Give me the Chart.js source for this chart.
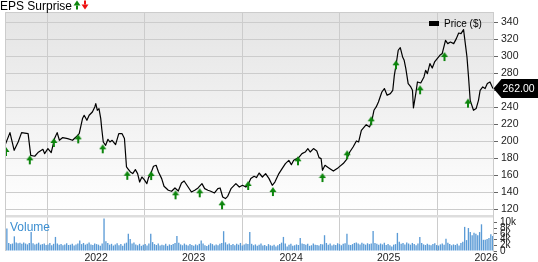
<!DOCTYPE html>
<html>
<head>
<meta charset="utf-8">
<script src="https://cdn.jsdelivr.net/npm/chart.js@4"></script>
<style>
  html, body { margin: 0; padding: 0; background: #fff; }
  #wrap { position: relative; width: 538px; height: 262px; }
</style>
</head>
<body>
<div id="wrap"><canvas id="chart" width="538" height="262"></canvas></div>
<script>
'use strict';

// price line, dates as decimal years
const priceDates = [
  2021.066, 2021.117, 2021.160, 2021.201, 2021.236, 2021.303, 2021.330, 2021.371, 2021.404, 2021.455,
  2021.472, 2021.506, 2021.540, 2021.574, 2021.601, 2021.624, 2021.658, 2021.709, 2021.759, 2021.794,
  2021.827, 2021.861, 2021.878, 2021.906, 2021.929, 2021.962, 2021.987, 2021.997, 2022.013, 2022.030,
  2022.048, 2022.058, 2022.074, 2022.098, 2022.122, 2022.142, 2022.165, 2022.200, 2022.233, 2022.267,
  2022.291, 2022.312, 2022.325, 2022.352, 2022.376, 2022.403, 2022.426, 2022.447, 2022.470, 2022.494,
  2022.521, 2022.538, 2022.561, 2022.589, 2022.616, 2022.640, 2022.673, 2022.697, 2022.741, 2022.775,
  2022.809, 2022.843, 2022.876, 2022.903, 2022.944, 2022.978, 2023.012, 2023.046, 2023.086, 2023.114,
  2023.147, 2023.170, 2023.215, 2023.249, 2023.272, 2023.299, 2023.327, 2023.350, 2023.384, 2023.434,
  2023.469, 2023.502, 2023.536, 2023.563, 2023.587, 2023.621, 2023.645, 2023.672, 2023.706, 2023.739,
  2023.774, 2023.807, 2023.834, 2023.875, 2023.908, 2023.942, 2023.977, 2024.003, 2024.027, 2024.078,
  2024.112, 2024.145, 2024.172, 2024.196, 2024.230, 2024.264, 2024.287, 2024.308, 2024.322, 2024.348,
  2024.383, 2024.434, 2024.484, 2024.535, 2024.568, 2024.602, 2024.636, 2024.670, 2024.693, 2024.721,
  2024.771, 2024.805, 2024.829, 2024.850, 2024.873, 2024.896, 2024.931, 2024.957, 2024.985, 2025.018,
  2025.043, 2025.059, 2025.076, 2025.099, 2025.120, 2025.144, 2025.160, 2025.177, 2025.201, 2025.228,
  2025.245, 2025.255, 2025.279, 2025.296, 2025.330, 2025.363, 2025.380, 2025.398, 2025.424, 2025.448,
  2025.472, 2025.499, 2025.526, 2025.550, 2025.584, 2025.607, 2025.634, 2025.668, 2025.695, 2025.719,
  2025.743, 2025.769, 2025.787, 2025.804, 2025.820, 2025.837, 2025.871, 2025.898, 2025.922, 2025.939,
  2025.966, 2025.990, 2026.013, 2026.040, 2026.071
];
const prices = [
  195.3, 210.2, 189.4, 199.2, 210.2, 209.0, 183.5, 182.4, 186.7, 190.6,
  185.5, 191.4, 186.7, 203.2, 210.2, 201.2, 204.4, 203.2, 201.2, 205.0,
  209.0, 226.7, 230.6, 224.7, 230.6, 234.5, 240.4, 244.4, 236.5, 238.5,
  226.7, 215.0, 199.2, 195.3, 202.4, 199.2, 201.2, 196.1, 209.0, 209.0,
  203.2, 169.8, 167.9, 163.9, 162.0, 166.7, 162.0, 152.1, 158.0, 154.9,
  150.2, 157.3, 162.0, 170.6, 171.8, 163.9, 156.1, 147.1, 142.4, 141.2,
  145.1, 141.5, 150.9, 153.3, 146.2, 140.4, 142.4, 145.1, 150.2, 144.3,
  142.4, 141.5, 139.2, 144.3, 145.1, 134.5, 132.6, 135.3, 144.3, 150.2,
  146.2, 148.2, 146.2, 150.2, 156.1, 158.8, 157.3, 162.7, 158.0, 162.0,
  156.1, 148.2, 152.1, 162.0, 167.9, 173.8, 177.6, 172.5, 177.6, 180.8,
  185.5, 187.4, 191.4, 187.4, 191.4, 188.6, 180.8, 179.6, 165.9, 171.8,
  169.0, 165.0, 169.0, 173.8, 178.5, 187.4, 193.3, 200.4, 199.2, 212.9,
  219.6, 216.9, 224.7, 236.5, 240.4, 246.2, 258.0, 262.0, 254.1, 256.1,
  260.0, 277.6, 289.4, 307.1, 310.2, 299.2, 295.3, 285.5, 267.8, 263.9,
  260.0, 239.2, 256.1, 269.8, 268.6, 275.7, 283.5, 279.6, 291.4, 286.2,
  293.3, 297.3, 301.2, 303.2, 318.8, 314.9, 316.8, 314.9, 320.8, 327.4,
  326.7, 331.4, 314.9, 299.2, 275.7, 248.2, 236.5, 238.5, 248.2, 260.0,
  263.9, 262.0, 267.9, 269.8, 262.0
];
const lastPrice = 262.00;

// earnings beats (green arrows)
const epsDates = [
  2021.076, 2021.320, 2021.567, 2021.817, 2022.068, 2022.320, 2022.565, 2022.815, 2023.063, 2023.292,
  2023.560, 2023.814, 2024.071, 2024.322, 2024.575, 2024.822, 2025.076, 2025.323, 2025.573, 2025.814
];
const epsLevels = [
  193.3, 183.5, 203.9, 208.2, 196.5, 165.3, 165.0, 142.4, 144.7, 130.6,
  153.3, 146.2, 182.4, 162.7, 189.4, 229.4, 295.3, 265.9, 305.0, 250.2
];

// weekly volume in thousands
const volStart = 2021.066;
const volumes = [
  3.2, 7.8, 2.8, 2.4, 2.6, 5.1, 3.0, 2.7, 2.9, 2.5, 3.0, 2.6, 2.3,
  2.8, 6.6, 2.7, 2.3, 2.5, 2.9, 2.2, 2.4, 2.6, 2.1, 2.3, 2.8, 2.0,
  2.5, 4.9, 2.6, 2.2, 2.4, 2.0, 2.3, 2.7, 2.1, 2.2, 2.5, 1.9, 2.3,
  2.6, 3.7, 2.4, 2.8, 2.2, 2.5, 3.0, 2.3, 2.1, 2.6, 2.4, 2.2, 1.8,
  2.6, 11.3, 3.4, 2.8, 2.2, 2.5, 1.9, 2.3, 2.7, 2.0, 2.4, 1.8, 2.6,
  2.9, 6.0, 4.2, 2.6, 3.0, 2.3, 2.0, 2.5, 1.8, 2.2, 2.4, 1.9, 2.6,
  6.0, 3.1, 2.4, 2.1, 2.6, 1.9, 2.2, 2.0, 2.5, 1.8, 2.3, 2.1, 2.4,
  2.8, 5.2, 2.9, 2.3, 2.0, 2.6, 2.2, 1.9, 2.4, 2.1, 1.8, 2.3, 2.0,
  2.5, 3.7, 2.6, 2.0, 1.7, 2.2, 2.7, 2.4, 1.9, 2.3, 2.0, 2.5, 2.8,
  6.9, 3.0, 2.3, 2.6, 2.1, 2.4, 2.0, 2.5, 2.2, 2.8, 1.9, 2.3, 2.6,
  2.4, 6.6, 2.5, 2.0, 2.3, 1.8, 2.2, 2.6, 1.9, 2.1, 1.7, 2.4, 2.0,
  1.8, 2.2, 1.6, 2.0, 2.4, 2.9, 4.9, 2.6, 1.6, 2.2, 2.5, 1.8, 2.0,
  2.3, 2.1, 4.5, 2.6, 2.4, 2.2, 2.5, 1.8, 2.0, 2.6, 2.2, 2.1, 1.9,
  2.4, 2.3, 5.5, 2.8, 2.2, 2.6, 1.9, 2.3, 2.1, 2.7, 2.4, 2.0, 2.5,
  2.7, 6.0, 2.2, 2.1, 2.4, 2.8, 3.0, 2.6, 2.3, 2.9, 2.5, 2.2, 2.7,
  2.4, 2.6, 7.0, 2.8, 2.5, 2.2, 2.6, 2.3, 2.9, 2.1, 2.4, 2.0, 1.6,
  2.2, 2.4, 6.3, 3.2, 2.5, 2.8, 2.3, 3.0, 2.6, 2.2, 2.8, 2.4, 2.0,
  2.6, 4.9, 2.8, 2.3, 2.1, 2.5, 2.2, 2.0, 2.4, 2.7, 2.1, 1.9, 2.3,
  2.6, 2.2, 4.3, 2.9, 2.4, 2.0, 2.3, 2.1, 2.5, 1.9, 2.8, 3.2, 8.4,
  3.8, 8.0, 6.6, 5.5, 6.4, 6.0, 5.5, 6.6, 9.3, 3.9, 3.9, 4.2, 4.5, 5.8, 5.2
];

const yearTicks = [2022, 2023, 2024, 2025, 2026];
const priceTicks = [120, 140, 160, 180, 200, 220, 240, 260, 280, 300, 320, 340];
const volTicks = [0, 2, 4, 6, 8, 10];

const FONT = '"Liberation Sans", Arial, sans-serif';
const GRID = '#cccccc';

// arrow icon; when tipCentered the tip sits in the middle of the canvas
function makeArrow(color, up, tipCentered) {
  let c = document.createElement('canvas');
  c.width = 8;
  c.height = tipCentered ? 20 : 10;
  let g = c.getContext('2d');
  let oy = tipCentered ? 10 : 0.5;
  g.fillStyle = color;
  if (!up) {
    g.translate(0, c.height);
    g.scale(1, -1);
  }
  g.beginPath();
  g.moveTo(4, oy);
  g.lineTo(0.5, oy + 5);
  g.lineTo(7.5, oy + 5);
  g.closePath();
  g.fill();
  g.fillRect(3, oy + 5, 2, 4);
  return c;
}
const beatArrow = makeArrow('#0c850c', true, true);
const titleUp = makeArrow('#0c850c', true, false);
const titleDown = makeArrow('#ee1111', false, false);

const decor = {
  id: 'decor',
  beforeDraw(chart) {
    const {ctx, chartArea: a, scales} = chart;
    const py = scales.y;
    ctx.save();
    let grad = ctx.createLinearGradient(0, py.top, 0, py.bottom);
    grad.addColorStop(0, '#e4e4e4');
    grad.addColorStop(1, '#ffffff');
    ctx.fillStyle = grad;
    ctx.fillRect(a.left, py.top, a.right - a.left, py.bottom - py.top);
    ctx.restore();
  },
  beforeDatasetsDraw(chart) {
    const {ctx, chartArea: a, scales} = chart;
    const py = scales.y;
    ctx.save();
    ctx.fillStyle = '#dddddd';
    ctx.fillRect(a.left, py.bottom, a.right - a.left, 2.5);
    // volume label
    ctx.fillStyle = '#3d8fd1';
    ctx.font = '12px ' + FONT;
    ctx.textBaseline = 'alphabetic';
    ctx.fillText('Volume', 10, 231);
    ctx.restore();
  },
  afterDraw(chart) {
    const {ctx, chartArea: a, scales} = chart;
    const py = scales.y;
    ctx.save();
    // frame
    ctx.strokeStyle = GRID;
    ctx.lineWidth = 1;
    ctx.beginPath();
    ctx.moveTo(a.left + 0.5, a.bottom);
    ctx.lineTo(a.left + 0.5, a.top + 0.5);
    ctx.lineTo(a.right, a.top + 0.5);
    ctx.stroke();

    // title
    ctx.fillStyle = '#000';
    ctx.font = '12px ' + FONT;
    ctx.textBaseline = 'alphabetic';
    ctx.textAlign = 'left';
    ctx.fillText('EPS Surprise', 0, 9.5);
    let tw = Math.round(ctx.measureText('EPS Surprise').width);
    ctx.drawImage(titleUp, tw + 1, 0);
    ctx.drawImage(titleDown, tw + 9, 0);

    // legend
    ctx.fillStyle = '#000';
    ctx.fillRect(429, 21, 10, 5);
    ctx.font = '10px ' + FONT;
    ctx.textBaseline = 'middle';
    ctx.fillText('Price ($)', 444, 24);

    // last price tag
    const yt = py.getPixelForValue(lastPrice);
    const x0 = a.right + 0.5;
    ctx.fillStyle = '#000';
    ctx.beginPath();
    ctx.moveTo(x0, yt);
    ctx.lineTo(x0 + 8, yt - 9.5);
    ctx.lineTo(538, yt - 9.5);
    ctx.lineTo(538, yt + 9.5);
    ctx.lineTo(x0 + 8, yt + 9.5);
    ctx.closePath();
    ctx.fill();
    ctx.fillStyle = '#fff';
    ctx.font = '10.5px ' + FONT;
    ctx.fillText(lastPrice.toFixed(2), x0 + 9, yt + 0.5);
    ctx.restore();
  }
};

let ctx = document.getElementById('chart').getContext('2d');

let chartObject = new Chart(ctx, {
  type: 'line',
  data: {
    datasets: [
      {
        label: 'EPS beat',
        data: epsDates.map((d, i) => ({x: d, y: epsLevels[i]})),
        showLine: false,
        pointStyle: beatArrow,
        pointRadius: 4,
        yAxisID: 'y',
        order: 0
      },
      {
        label: 'Price ($)',
        data: priceDates.map((d, i) => ({x: d, y: prices[i]})),
        borderColor: '#000',
        borderWidth: 1.2,
        borderJoinStyle: 'round',
        pointRadius: 0,
        tension: 0,
        yAxisID: 'y',
        order: 1
      },
      {
        type: 'bar',
        label: 'Volume',
        data: volumes.map((v, i) => ({x: volStart + i / 52.18, y: v})),
        backgroundColor: '#5b9bd6',
        barPercentage: 0.72,
        categoryPercentage: 1,
        yAxisID: 'yv',
        order: 2
      }
    ]
  },
  options: {
    responsive: false,
    animation: false,
    layout: { padding: { top: 12, left: 0, right: 0, bottom: 0 } },
    plugins: {
      legend: { display: false },
      tooltip: { enabled: false }
    },
    scales: {
      x: {
        type: 'linear',
        min: 2021.066,
        max: 2026.071,
        offset: false,
        afterBuildTicks: s => { s.ticks = yearTicks.map(v => ({value: v})); },
        afterFit: s => { s.height = 11; },
        grid: { color: GRID, drawTicks: false },
        border: { display: false },
        ticks: {
          padding: 1,
          color: '#222',
          font: { family: FONT, size: 10.5 },
          maxRotation: 0,
          callback: v => String(v)
        }
      },
      y: {
        position: 'right',
        stack: 'panes',
        stackWeight: 203,
        min: 113.3,
        max: 352.1,
        afterBuildTicks: s => { s.ticks = priceTicks.map(v => ({value: v})); },
        afterFit: s => { s.width = 45; },
        grid: { color: GRID, tickColor: '#666', tickLength: 5 },
        border: { display: true, color: GRID },
        ticks: {
          autoSkip: false,
          padding: 3,
          color: '#222',
          font: { family: FONT, size: 10.5 },
          callback: v => String(v)
        }
      },
      yv: {
        position: 'right',
        stack: 'panes',
        stackWeight: 36,
        min: 0,
        max: 12.54,
        afterBuildTicks: s => { s.ticks = volTicks.map(v => ({value: v})); },
        afterFit: s => { s.width = 45; },
        grid: { drawOnChartArea: false, tickColor: '#666', tickLength: 4 },
        border: { display: true, color: GRID },
        ticks: {
          autoSkip: false,
          padding: 3,
          color: '#222',
          font: { family: FONT, size: 10 },
          callback: v => v === 0 ? '0' : v + 'k'
        }
      }
    }
  },
  plugins: [decor]
});
</script>
</body>
</html>
